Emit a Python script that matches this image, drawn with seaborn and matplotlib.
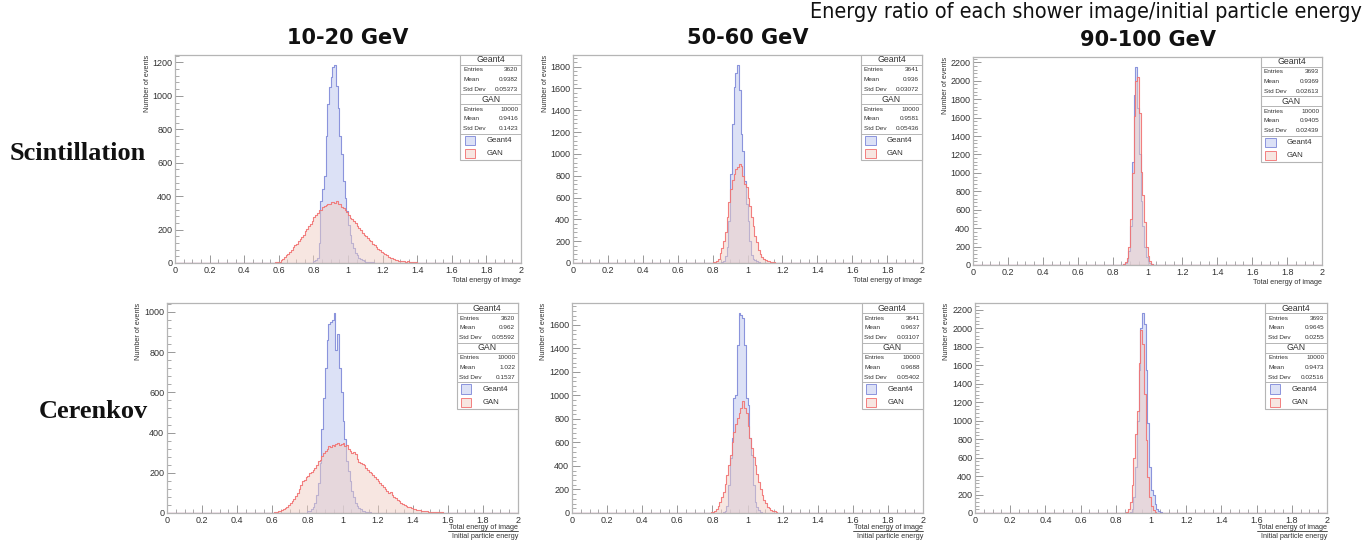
import numpy as np
import pandas as pd
import matplotlib
matplotlib.use("Agg")
import matplotlib.pyplot as plt
import seaborn as sns
from matplotlib import font_manager as fm
from matplotlib.ticker import MultipleLocator, FuncFormatter
from matplotlib.patches import Rectangle
from matplotlib.lines import Line2D

# ---------------------------------------------------------------- data
ENERGY_BINS = ["10-20 GeV", "50-60 GeV", "90-100 GeV"]
ROWS = ["Scintillation", "Cerenkov"]
SERIES = ["Geant4", "GAN"]
BIN_WIDTH = 0.01
N_BINS = 200
X_RANGE = (0.0, 2.0)

# Scintillation, 10-20 GeV
SCI_10_G4_START = 0.80
SCI_10_G4 = [10, 20, 30, 120, 370, 440, 520, 760, 950, 1050, 1110, 1170, 1185, 1060,
             930, 760, 650, 490, 390, 310, 230, 170, 120, 90, 60, 48, 30, 24, 15, 12,
             8, 6, 5, 4, 3, 2]
SCI_10_GAN_START = 0.58
SCI_10_GAN = [3, 5, 8, 15, 25, 35, 45, 55, 68, 80, 95, 105, 115, 130, 145, 155, 170, 190,
              205, 220, 235, 250, 275, 290, 300, 315, 320, 335, 340, 345, 355, 350, 362,
              365, 358, 368, 355, 350, 335, 330, 315, 305, 290, 270, 265, 250, 240, 220,
              210, 195, 180, 170, 160, 150, 140, 130, 115, 105, 95, 85, 75, 68, 60, 52,
              45, 38, 32, 28, 24, 20, 16, 14, 12, 10, 9, 8, 10, 7, 5, 4, 4, 3, 2, 2, 1,
              1, 1, 1, 1, 1]

# Scintillation, 50-60 GeV
SCI_50_G4_START = 0.85
SCI_50_G4 = [5, 15, 60, 150, 385, 815, 1277, 1615, 1740, 1815, 1585, 1185, 1030, 754,
             538, 385, 200, 77, 40, 25, 15, 8]
SCI_50_GAN_START = 0.80
SCI_50_GAN = [5, 10, 20, 40, 90, 140, 200, 280, 420, 560, 680, 760, 820, 860, 880, 905,
              890, 800, 720, 700, 600, 520, 420, 340, 250, 190, 120, 80, 55, 40, 30, 20,
              15, 10, 8, 5]

# Scintillation, 90-100 GeV
SCI_90_G4_START = 0.85
SCI_90_G4 = [5, 10, 20, 40, 150, 420, 1120, 1840, 2150, 1700, 1200, 700, 420, 200, 90,
             40, 20, 10, 5]
SCI_90_GAN_START = 0.86
SCI_90_GAN = [10, 30, 80, 200, 500, 1000, 1620, 2000, 2040, 1650, 1010, 760, 470, 200,
              100, 40, 15, 5]

# Cerenkov, 10-20 GeV
CER_10_G4_START = 0.80
CER_10_G4 = [8, 12, 20, 30, 50, 90, 150, 250, 420, 570, 720, 860, 940, 950, 960, 995,
             810, 890, 720, 600, 460, 370, 260, 210, 160, 110, 80, 50, 35, 25, 18, 12,
             8, 6, 4, 3]
CER_10_GAN_START = 0.60
CER_10_GAN = [2, 4, 6, 8, 10, 14, 18, 24, 32, 40, 50, 62, 72, 85, 100, 120, 140, 160,
              165, 180, 185, 200, 205, 215, 225, 240, 260, 265, 285, 300, 310, 320, 335,
              330, 340, 335, 345, 350, 340, 345, 350, 335, 340, 320, 310, 300, 305, 295,
              270, 255, 250, 245, 240, 225, 215, 205, 200, 190, 180, 170, 160, 150, 140,
              130, 120, 110, 100, 105, 90, 80, 75, 65, 60, 52, 45, 40, 35, 30, 28, 24,
              20, 18, 16, 14, 15, 12, 10, 9, 8, 7, 6, 5, 5, 4, 4, 3, 3, 2, 2, 2, 1]

# Cerenkov, 50-60 GeV
CER_50_G4_START = 0.86
CER_50_G4 = [5, 15, 60, 239, 466, 637, 978, 1000, 1432, 1702, 1688, 1660, 1432, 978,
             920, 637, 494, 239, 97, 54, 25, 10]
CER_50_GAN_START = 0.78
CER_50_GAN = [3, 5, 10, 20, 35, 60, 97, 140, 182, 250, 324, 410, 494, 608, 693, 760,
              807, 850, 892, 949, 892, 850, 740, 637, 551, 480, 409, 330, 267, 200, 153,
              110, 82, 55, 40, 28, 20, 14, 8, 4]

# Cerenkov, 90-100 GeV
CER_90_G4_START = 0.88
CER_90_G4 = [15, 40, 170, 500, 1000, 1550, 2000, 2164, 2050, 1550, 970, 500, 245, 200,
             100, 45, 20, 10]
CER_90_GAN_START = 0.85
CER_90_GAN = [5, 15, 40, 120, 300, 600, 850, 1100, 1620, 1977, 1830, 1290, 790, 390,
              170, 80, 30, 10]

# stats box texts  (Entries, Mean, Std Dev)
SCI_10_STATS = (["3620", "0.9382", "0.05373"], ["10000", "0.9416", "0.1423"])
SCI_50_STATS = (["3641", "0.936", "0.03072"], ["10000", "0.9581", "0.05436"])
SCI_90_STATS = (["3693", "0.9369", "0.02613"], ["10000", "0.9405", "0.02439"])
CER_10_STATS = (["3620", "0.962", "0.05592"], ["10000", "1.022", "0.1537"])
CER_50_STATS = (["3641", "0.9637", "0.03107"], ["10000", "0.9688", "0.05402"])
CER_90_STATS = (["3693", "0.9645", "0.0255"], ["10000", "0.9473", "0.02516"])
STAT_LABELS = ["Entries", "Mean", "Std Dev"]

PANELS = [
    [(SCI_10_G4_START, SCI_10_G4, SCI_10_GAN_START, SCI_10_GAN, SCI_10_STATS),
     (SCI_50_G4_START, SCI_50_G4, SCI_50_GAN_START, SCI_50_GAN, SCI_50_STATS),
     (SCI_90_G4_START, SCI_90_G4, SCI_90_GAN_START, SCI_90_GAN, SCI_90_STATS)],
    [(CER_10_G4_START, CER_10_G4, CER_10_GAN_START, CER_10_GAN, CER_10_STATS),
     (CER_50_G4_START, CER_50_G4, CER_50_GAN_START, CER_50_GAN, CER_50_STATS),
     (CER_90_G4_START, CER_90_G4, CER_90_GAN_START, CER_90_GAN, CER_90_STATS)],
]

TITLE = "Energy ratio of each shower image/initial particle energy"
YLABEL = "Number of events"
XLABEL_NUM = "Total energy of image"
XLABEL_DEN = "Initial particle energy"

# ---------------------------------------------------------------- style
sns.set_theme(style="white")
names = {f.name for f in fm.fontManager.ttflist}
ROOT_FONT = "Liberation Sans" if "Liberation Sans" in names else "DejaVu Sans"
SERIF_FONT = "Liberation Serif" if "Liberation Serif" in names else "DejaVu Serif"
HEAD_FONT = "Noto Sans CJK KR" if "Noto Sans CJK KR" in names else "DejaVu Sans"
plt.rcParams["font.family"] = [ROOT_FONT, "DejaVu Sans"]

# a condensed sans for the top caption, if one is installed
narrow_file = None
for f in fm.fontManager.ttflist:
    low = (f.name + " " + f.fname).lower()
    if ("narrow" in low or "condensed" in low) and "bold" not in low \
            and "oblique" not in low and "italic" not in low and f.weight in (400, "normal", "regular"):
        narrow_file = f.fname
        break
if narrow_file:
    TITLE_PROPS = dict(fontproperties=fm.FontProperties(fname=narrow_file, size=15.5))
else:
    TITLE_PROPS = dict(family=[ROOT_FONT, "DejaVu Sans"], fontsize=15.5)

FRAME = "#b5b5b5"
TXT = "#333333"
G4_FACE = (0.78, 0.81, 0.95, 0.62)
G4_EDGE = (0.50, 0.54, 0.85, 0.9)
GAN_FACE = (0.94, 0.81, 0.77, 0.5)
GAN_EDGE = (0.95, 0.45, 0.45, 0.9)

W, H = 1365, 541
fig = plt.figure(figsize=(W / 100, H / 100), dpi=100)

# axes rectangles in pixels: left, top, right, bottom
AX_PX = [[(175, 55, 521, 263), (573, 55, 922, 263), (973, 57, 1322, 265)],
         [(167, 303, 518, 513), (572, 303, 923, 513), (975, 303, 1327, 513)]]


def centers_from(start, counts):
    return start + BIN_WIDTH * (np.arange(len(counts)) + 0.5)


def stats_box(ax, stats):
    x0, x1 = 0.825, 1.0
    xm = (x0 + x1) / 2
    h_head, h_row, h_leg = 0.048, 0.047, 0.064
    y = 1.0
    tr = ax.transAxes
    bottom = 1.0 - 2 * h_head - 6 * h_row - 2 * h_leg
    ax.add_patch(Rectangle((x0, bottom), x1 - x0, 1.0 - bottom, transform=tr,
                           facecolor="white", edgecolor=FRAME, lw=0.8, zorder=5,
                           clip_on=False))
    for name, vals in zip(SERIES, stats):
        ax.text(xm, y - h_head / 2, name, transform=tr, ha="center", va="center",
                fontsize=6.3, color=TXT, zorder=6)
        y -= h_head
        ax.add_line(Line2D([x0, x1], [y, y], transform=tr, color=FRAME, lw=0.7, zorder=6))
        for lab, v in zip(STAT_LABELS, vals):
            ax.text(x0 + 0.008, y - h_row / 2, lab, transform=tr, ha="left", va="center",
                    fontsize=4.6, color=TXT, zorder=6)
            ax.text(x1 - 0.008, y - h_row / 2, v, transform=tr, ha="right", va="center",
                    fontsize=4.6, color=TXT, zorder=6)
            y -= h_row
        ax.add_line(Line2D([x0, x1], [y, y], transform=tr, color=FRAME, lw=0.7, zorder=6))
    for name, fc, ec in zip(SERIES, [G4_FACE, GAN_FACE], [G4_EDGE, GAN_EDGE]):
        ax.add_patch(Rectangle((x0 + 0.012, y - h_leg + 0.01), 0.03, h_leg - 0.02,
                               transform=tr, facecolor=fc, edgecolor=ec, lw=0.7,
                               zorder=6))
        ax.text(x0 + 0.075, y - h_leg / 2, name, transform=tr, ha="left", va="center",
                fontsize=5.6, color=TXT, zorder=6)
        y -= h_leg


for r, row in enumerate(PANELS):
    for c, (g4s, g4, gans, gan, stats) in enumerate(row):
        l, t, rr, b = AX_PX[r][c]
        ax = fig.add_axes([l / W, 1 - b / H, (rr - l) / W, (b - t) / H])
        df_g4 = pd.DataFrame({"x": centers_from(g4s, g4), "n": np.asarray(g4, float)})
        df_gan = pd.DataFrame({"x": centers_from(gans, gan), "n": np.asarray(gan, float)})
        sns.histplot(data=df_g4, x="x", weights="n", bins=N_BINS, binrange=X_RANGE,
                     element="step", fill=True, facecolor=G4_FACE, edgecolor=G4_EDGE,
                     linewidth=0.8, ax=ax)
        sns.histplot(data=df_gan, x="x", weights="n", bins=N_BINS, binrange=X_RANGE,
                     element="step", fill=True, facecolor=GAN_FACE, edgecolor=GAN_EDGE,
                     linewidth=0.8, ax=ax)
        ymax = 1.05 * max(max(g4), max(gan))
        ax.set_xlim(*X_RANGE)
        ax.set_ylim(0, ymax)
        ax.set_xlabel("")
        ax.set_ylabel("")
        ax.xaxis.set_major_locator(MultipleLocator(0.2))
        ax.xaxis.set_minor_locator(MultipleLocator(0.05))
        ax.yaxis.set_major_locator(MultipleLocator(200))
        ax.yaxis.set_minor_locator(MultipleLocator(40))
        ax.xaxis.set_major_formatter(FuncFormatter(lambda v, p: f"{v:g}"))
        ax.yaxis.set_major_formatter(FuncFormatter(lambda v, p: f"{v:g}"))
        ax.tick_params(which="both", direction="in", color="#888888", labelcolor=TXT,
                       labelsize=6.5, top=False, right=False, bottom=True, left=True)
        ax.tick_params(which="major", length=6, width=0.6, pad=2)
        ax.tick_params(which="minor", length=3, width=0.5)
        for s in ax.spines.values():
            s.set_color(FRAME)
            s.set_linewidth(0.9)
        ax.text(-0.08, 1.0, YLABEL, transform=ax.transAxes, rotation=90,
                ha="center", va="top", fontsize=5.2, color=TXT)
        if r == 0:
            ax.text(1.0, -0.065, XLABEL_NUM, transform=ax.transAxes, ha="right",
                    va="top", fontsize=5.2, color=TXT)
        else:
            ax.text(1.0, -0.052, XLABEL_NUM, transform=ax.transAxes, ha="right",
                    va="top", fontsize=5.2, color=TXT)
            ax.add_line(Line2D([0.8, 1.0], [-0.088, -0.088], transform=ax.transAxes,
                               color=TXT, lw=0.6, clip_on=False))
            ax.text(1.0, -0.097, XLABEL_DEN, transform=ax.transAxes, ha="right",
                    va="top", fontsize=5.2, color=TXT)
        stats_box(ax, stats)
        if r == 0:
            ax.text(0.5, 1.0 + 17 / (b - t), ENERGY_BINS[c], transform=ax.transAxes,
                    ha="center", va="center", fontsize=15, fontweight="bold",
                    family=[HEAD_FONT, "DejaVu Sans"], color="#111111")

fig.text(1362 / W, 1 - 12 / H, TITLE, ha="right", va="center", color="#111111",
         **TITLE_PROPS)
fig.text(146 / W, 1 - 153 / H, ROWS[0], ha="right", va="center", fontsize=19,
         fontweight="bold", family=[SERIF_FONT, "DejaVu Serif"], color="#111111")
fig.text(148 / W, 1 - 411 / H, ROWS[1], ha="right", va="center", fontsize=19,
         fontweight="bold", family=[SERIF_FONT, "DejaVu Serif"], color="#111111")

fig.savefig("out.png", dpi=100)
